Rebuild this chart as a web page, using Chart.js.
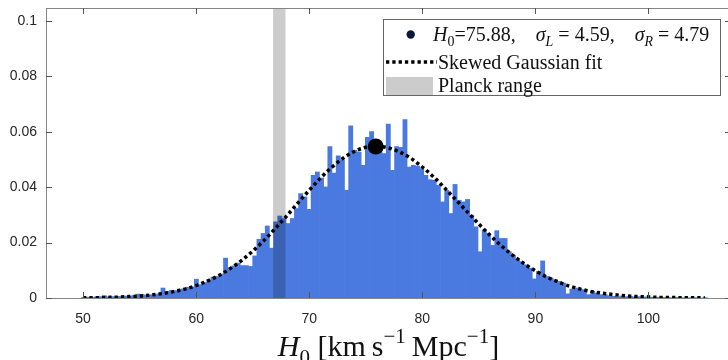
<!DOCTYPE html>
<html>
<head>
<meta charset="utf-8">
<script src="https://cdn.jsdelivr.net/npm/chart.js@4.4.1/dist/chart.umd.min.js"></script>
<style>
  html, body { margin: 0; padding: 0; background: #fff; overflow: hidden; }
  #wrap { width: 739px; height: 360px; }
</style>
</head>
<body>
<div id="wrap"><canvas id="h0Chart" width="739" height="360"></canvas></div>
<script>
/*============ DATA ============*/
// histogram of H0 samples (150 bins)
const binStart = 49.87;
const binWidth = 0.369;
const binHeights = [
  0.0002, 0.0003, 0.0002, 0.0004, 0.0005, 0.0008, 0.0004, 0.0005, 0.0006, 0.0005,
  0.0007, 0.0006, 0.0009, 0.0014, 0.0013, 0.0010, 0.0012, 0.0012, 0.0015, 0.0036,
  0.0024, 0.0027, 0.0027, 0.0032, 0.0033, 0.0039, 0.0040, 0.0068, 0.0048, 0.0056,
  0.0066, 0.0075, 0.0078, 0.0087, 0.0144, 0.0108, 0.0116, 0.0126,
  0.0117, 0.0117, 0.0114, 0.0152, 0.0212, 0.0233, 0.0260, 0.0180, 0.0275, 0.0296,
  0.0287, 0.0269, 0.0287, 0.0323, 0.0377, 0.0365, 0.0320, 0.0443, 0.0455, 0.0433,
  0.0401, 0.0547, 0.0451, 0.0513, 0.0499, 0.0389, 0.0622, 0.0533, 0.0527, 0.0479,
  0.0580,
  0.0601, 0.0556, 0.0544, 0.0521, 0.0628, 0.0461, 0.0547, 0.0544, 0.0644, 0.0473,
  0.0479, 0.0476, 0.0467, 0.0443, 0.0427, 0.0425, 0.0407, 0.0347, 0.0389, 0.0305,
  0.0410, 0.0353, 0.0347, 0.0356, 0.0299, 0.0257, 0.0167, 0.0245, 0.0233, 0.0190,
  0.0243, 0.0215, 0.0215, 0.0167, 0.0155, 0.0138, 0.0131, 0.0120, 0.0108, 0.0069,
  0.0096, 0.0134, 0.0078, 0.0072, 0.0066, 0.0060, 0.0054, 0.0015, 0.0032, 0.0036,
  0.0032, 0.0030, 0.0012, 0.0024, 0.0018, 0.0012, 0.0012, 0.0008, 0.0006, 0.0004,
  0.0007, 0.0005, 0.0006, 0.0004, 0.0005, 0.0003, 0.0004, 0.0003, 0.0002, 0.0003,
  0.0002, 0.0002, 0.0001, 0.0002, 0.0001, 0.0001, 0.0001, 0.0001, 0.0001, 0.0000,
  0.0001
];

// skewed gaussian fit, read at whole H0 values
const fitH0 = [
  50, 51, 52, 53, 54, 55, 56, 57, 58, 59, 60, 61, 62, 63, 64, 65, 66, 67, 68, 69,
  70, 71, 72, 73, 74, 75, 76, 77, 78, 79, 80, 81, 82, 83, 84, 85, 86, 87, 88, 89,
  90, 91, 92, 93, 94, 95, 96, 97, 98, 99, 100, 101, 102, 103, 104, 105
];
const fitDensity = [
  0.0001, 0.0001, 0.0002, 0.0003, 0.0005, 0.0007, 0.0011, 0.0016, 0.0023, 0.0032,
  0.0045, 0.0061, 0.0081, 0.0106, 0.0135, 0.0169, 0.0208, 0.0251, 0.0296, 0.0343,
  0.0389, 0.0433, 0.0472, 0.0505, 0.0529, 0.0544, 0.0548, 0.0542, 0.0527, 0.0504,
  0.0473, 0.0437, 0.0396, 0.0353, 0.0310, 0.0267, 0.0226, 0.0188, 0.0154, 0.0124,
  0.0098, 0.0076, 0.0058, 0.0043, 0.0032, 0.0023, 0.0017, 0.0012, 0.0008, 0.0005,
  0.0004, 0.0002, 0.0002, 0.0001, 0.0001, 0.0000
];

// best estimate
const bestH0 = 75.88;
const bestPeak = 0.0547;
const sigmaL = 4.59;
const sigmaR = 4.79;

const planckRange = [66.8, 67.9];

const xTicks = [50, 60, 70, 80, 90, 100];
const yTicks = [0, 0.02, 0.04, 0.06, 0.08, 0.1];

/*============ HELPERS ============*/
const SERIF = '"Liberation Serif", "Times New Roman", serif';
const SANS = '"Liberation Sans", Arial, Helvetica, sans-serif';

function richWidth(ctx, parts, size) {
  let w = 0;
  parts.forEach(p => {
    const s = (p.sub || p.sup) ? size * 0.7 : size;
    ctx.font = (p.it ? 'italic ' : '') + s + 'px ' + SERIF;
    w += ctx.measureText(p.t).width;
  });
  return w;
}

function drawRich(ctx, x, y, parts, size) {
  parts.forEach(p => {
    const s = (p.sub || p.sup) ? size * 0.7 : size;
    ctx.font = (p.it ? 'italic ' : '') + s + 'px ' + SERIF;
    const dy = p.sub ? size * 0.27 : (p.sup ? -size * 0.42 : 0);
    ctx.fillText(p.t, x, y + dy);
    x += ctx.measureText(p.t).width;
  });
  return x;
}

/*============ PLUGIN: band, frame, legend, axis title ============*/
const decorations = {
  id: 'decorations',
  afterDatasetsDraw(chart) {
    const {ctx, chartArea: a, scales: {x}} = chart;
    const x0 = x.getPixelForValue(planckRange[0]);
    const x1 = x.getPixelForValue(planckRange[1]);
    ctx.save();
    ctx.fillStyle = 'rgba(0,0,0,0.2)';
    ctx.fillRect(x0, a.top, x1 - x0, a.bottom - a.top);
    ctx.restore();
  },
  afterDraw(chart) {
    const {ctx, chartArea: a, scales: {x, y}} = chart;
    ctx.save();

    // frame
    ctx.strokeStyle = '#858585';
    ctx.lineWidth = 1;
    ctx.strokeRect(Math.round(a.left) + 0.5, Math.round(a.top) + 0.5,
      Math.round(a.right - a.left), Math.round(a.bottom - a.top));

    // inward ticks
    ctx.strokeStyle = '#555';
    ctx.beginPath();
    xTicks.forEach(v => {
      const px = Math.round(x.getPixelForValue(v)) + 0.5;
      ctx.moveTo(px, a.bottom); ctx.lineTo(px, a.bottom - 6);
      ctx.moveTo(px, a.top); ctx.lineTo(px, a.top + 6);
    });
    yTicks.forEach(v => {
      const py = Math.round(y.getPixelForValue(v)) + 0.5;
      ctx.moveTo(a.left, py); ctx.lineTo(a.left + 6, py);
      ctx.moveTo(a.right, py); ctx.lineTo(a.right - 6, py);
    });
    ctx.stroke();

    // legend box
    ctx.fillStyle = '#fff';
    ctx.fillRect(383.5, 19.5, 337, 76);
    ctx.strokeStyle = '#666';
    ctx.strokeRect(383.5, 19.5, 337, 76);

    ctx.fillStyle = '#0d1838';
    ctx.beginPath();
    ctx.arc(410.7, 34.5, 4.2, 0, Math.PI * 2);
    ctx.fill();

    ctx.strokeStyle = '#000';
    ctx.lineWidth = 3.5;
    ctx.setLineDash([3.3, 3]);
    ctx.beginPath();
    ctx.moveTo(386, 62); ctx.lineTo(437, 62);
    ctx.stroke();
    ctx.setLineDash([]);

    ctx.fillStyle = '#cccccc';
    ctx.fillRect(386, 77, 47, 18);

    ctx.fillStyle = '#111';
    ctx.textBaseline = 'alphabetic';
    ctx.textAlign = 'left';
    drawRich(ctx, 433, 41, [
      {t: 'H', it: 1}, {t: '0', sub: 1}, {t: '=' + bestH0.toFixed(2) + ',\u2003'},
      {t: '\u03C3', it: 1}, {t: 'L', it: 1, sub: 1}, {t: '\u2005=\u2005' + sigmaL.toFixed(2) + ',\u2003'},
      {t: '\u03C3', it: 1}, {t: 'R', it: 1, sub: 1}, {t: '\u2005=\u2005' + sigmaR.toFixed(2)}
    ], 20);
    drawRich(ctx, 438, 69, [{t: 'Skewed Gaussian fit'}], 20);
    drawRich(ctx, 438, 91.5, [{t: 'Planck range'}], 20);

    // x axis title
    const title = [
      {t: 'H', it: 1}, {t: '0', sub: 1}, {t: ' [km\u2009s'}, {t: '\u22121', sup: 1},
      {t: '\u2009Mpc'}, {t: '\u22121', sup: 1}, {t: ']'}
    ];
    const tw = richWidth(ctx, title, 30);
    ctx.fillStyle = '#111';
    drawRich(ctx, (a.left + a.right) / 2 - tw / 2, 356, title, 30);

    ctx.restore();
  }
};

/*============ CHART ============*/
const tickFont = {family: SANS, size: 14};

new Chart(document.getElementById('h0Chart'), {
  data: {
    datasets: [
      {
        type: 'scatter',
        data: [{x: bestH0, y: bestPeak}],
        pointRadius: 8,
        backgroundColor: '#000',
        borderWidth: 0,
        order: 0
      },
      {
        type: 'line',
        data: fitH0.map((v, i) => ({x: v, y: fitDensity[i]})),
        borderColor: '#000',
        borderWidth: 3.5,
        borderDash: [3.3, 3],
        pointRadius: 0,
        fill: false,
        tension: 0.4,
        cubicInterpolationMode: 'monotone',
        order: 1
      },
      {
        type: 'bar',
        data: binHeights.map((h, i) => ({x: binStart + binWidth * (i + 0.5), y: h})),
        backgroundColor: '#4a7ae0',
        borderWidth: 0,
        barPercentage: 1,
        categoryPercentage: 1,
        order: 2
      }
    ]
  },
  options: {
    responsive: false,
    animation: false,
    devicePixelRatio: 1,
    layout: {padding: {top: 7, right: 2, left: 0, bottom: 0}},
    plugins: {legend: {display: false}, tooltip: {enabled: false}},
    scales: {
      x: {
        type: 'linear',
        offset: false,
        min: 46.72,
        max: 107.3,
        grid: {display: false, drawTicks: false, offset: false},
        border: {display: false},
        ticks: {padding: 13, font: tickFont, color: '#262626'},
        afterBuildTicks: s => { s.ticks = xTicks.map(v => ({value: v})); },
        afterFit: s => { s.height = 62; s.paddingLeft = 0; s.paddingRight = 0; }
      },
      y: {
        type: 'linear',
        min: 0,
        max: 0.1047,
        grid: {display: false, drawTicks: false},
        border: {display: false},
        ticks: {
          padding: 9, font: tickFont, color: '#262626',
          callback: v => String(+v.toFixed(2))
        },
        afterBuildTicks: s => { s.ticks = yTicks.map(v => ({value: v})); },
        afterFit: s => { s.width = 46; s.paddingTop = 0; s.paddingBottom = 0; }
      }
    }
  },
  plugins: [decorations]
});
</script>
</body>
</html>
